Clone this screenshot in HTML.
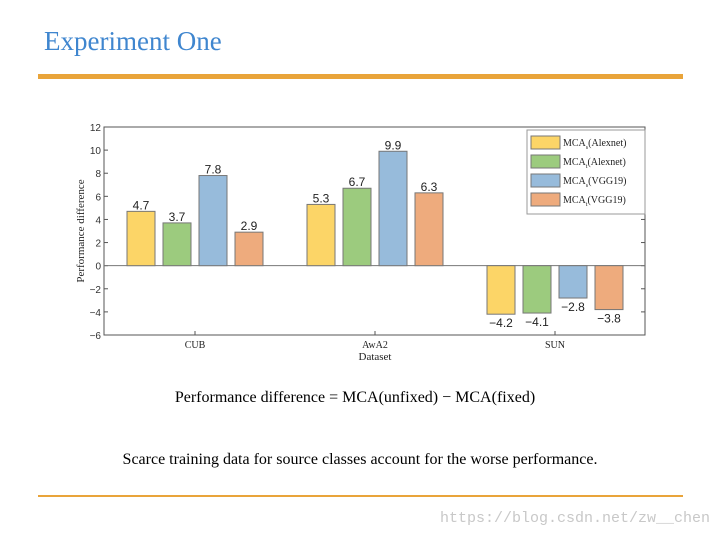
<!DOCTYPE html>
<html><head><meta charset="utf-8"><style>
body{margin:0;background:#fff;}
#page{position:relative;width:720px;height:540px;overflow:hidden;background:#fff;font-family:"Liberation Serif",serif;}
.t{position:absolute;white-space:nowrap;}
</style></head><body>
<div id="page">
<div class="t" style="left:44px;top:26px;font-size:27px;color:#3f86cf;">Experiment One</div>
<div style="position:absolute;left:38px;top:74px;width:645px;height:5px;background:#e9a43a;"></div>
<svg id="chart" style="position:absolute;left:0;top:0" width="720" height="380"></svg>
<div class="t" style="left:0;width:710px;text-align:center;top:389px;font-size:16px;color:#000;">Performance difference = MCA(unfixed) − MCA(fixed)</div>
<div class="t" style="left:0;width:720px;text-align:center;top:451px;font-size:16px;color:#000;">Scarce training data for source classes account for the worse performance.</div>
<div style="position:absolute;left:38px;top:495px;width:645px;height:2px;background:#e9a43a;"></div>
<div class="t" style="right:10px;top:510px;font-family:'Liberation Mono',monospace;font-size:15px;color:#c8c8c8;">https://blog.csdn.net/zw__chen</div>
</div>
<script>
const categories=["CUB","AwA2","SUN"];
const seriesNames=["Alexnet_s","Alexnet_t","VGG19_s","VGG19_t"];
const alexS=[4.7,5.3,-4.2];
const alexT=[3.7,6.7,-4.1];
const vggS=[7.8,9.9,-2.8];
const vggT=[2.9,6.3,-3.8];
const yTicks=[-6,-4,-2,0,2,4,6,8,10,12];
const series=[alexS,alexT,vggS,vggT];
const colors=["#fcd567","#9ccb7e","#97bbdb","#eeab7d"];
const legendLabels=[["s","(Alexnet)"],["t","(Alexnet)"],["s","(VGG19)"],["t","(VGG19)"]];
const NS="http://www.w3.org/2000/svg";
const svg=document.getElementById('chart');
const L=104,R=645,T=127,B=335,yMin=-6,yMax=12;
const y=v=>B-(v-yMin)/(yMax-yMin)*(B-T);
const gx=i=>195+i*180;
const bw=28,step=36;
function mk(tag,a,txt){const e=document.createElementNS(NS,tag);for(const k in a)e.setAttribute(k,a[k]);if(txt!==undefined)e.textContent=txt;svg.appendChild(e);return e;}
let e=mk('rect',{x:L,y:T,width:R-L,height:B-T,fill:'#fff',stroke:'#555','stroke-width':1});

yTicks.forEach(t=>{
  let l=mk('line',{x1:L,x2:L+4,y1:y(t),y2:y(t),stroke:'#555'});
  
  let l2=mk('line',{x1:R-4,x2:R,y1:y(t),y2:y(t),stroke:'#555'});
  
  let tx=mk('text',{x:L-3,y:y(t)+4,'text-anchor':'end','font-size':10,'font-family':'Liberation Sans,sans-serif',fill:'#333'},String(t).replace('-','−'));
  
});
let z=mk('line',{x1:L,x2:R,y1:y(0),y2:y(0),stroke:'#777','stroke-width':1});

categories.forEach((c,i)=>{
  series.forEach((s,j)=>{
    const v=s[i],x=gx(i)-2*step+j*step+4;
    const top=Math.min(y(v),y(0)),h=Math.abs(y(v)-y(0));
    let r=mk('rect',{x:x,y:top,width:bw,height:h,fill:colors[j],stroke:'#777','stroke-width':1});
    
    const ly=v>=0?y(v)-2:y(v)+13;
    let t=mk('text',{x:x+bw/2,y:ly,'text-anchor':'middle','font-size':12,'font-family':'Liberation Sans,sans-serif',fill:'#222'},String(v).replace('-','−'));
    
  });
  let l=mk('line',{x1:gx(i),x2:gx(i),y1:B,y2:B-4,stroke:'#555'});
  
  let tx=mk('text',{x:gx(i),y:B+13,'text-anchor':'middle','font-size':10,'font-family':'Liberation Serif,serif',fill:'#222'},c);
  
});
let xt=mk('text',{x:375,y:360,'text-anchor':'middle','font-size':11,'font-family':'Liberation Serif,serif',fill:'#222'},'Dataset');

let yt=mk('text',{x:0,y:0,transform:'translate(84,231) rotate(-90)','text-anchor':'middle','font-size':11,'font-family':'Liberation Serif,serif',fill:'#222'},'Performance difference');

let lb=mk('rect',{x:527,y:130,width:118,height:84,fill:'#fff',stroke:'#999'});

legendLabels.forEach((lab,j)=>{
  const ly=136+j*19;
  let s=mk('rect',{x:531,y:ly,width:29,height:13,fill:colors[j],stroke:'#777'});
  
  let t=mk('text',{x:563,y:ly+10,'font-size':10,'font-family':'Liberation Serif,serif',fill:'#222'});
  
  t.innerHTML='MCA<tspan dy="3" font-size="6">'+lab[0]+'</tspan><tspan dy="-3">'+lab[1]+'</tspan>';
});
</script>
</body></html>
